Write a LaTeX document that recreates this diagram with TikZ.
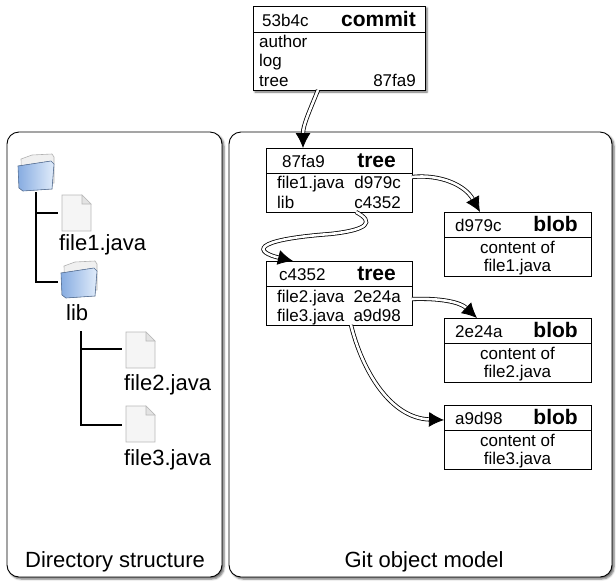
\documentclass[tikz,border=0pt]{standalone}
\usepackage{fontspec}
\setmainfont{Liberation Sans}
\usepackage{tikz}
\usetikzlibrary{arrows.meta,shadows.blur}
\usepackage{xcolor}

\definecolor{folderblue}{RGB}{135,172,225}
\definecolor{folderpale}{RGB}{225,236,250}

\tikzset{
  panel/.style={draw, line width=0.9pt, rounded corners=12pt, fill=white,
    blur shadow={shadow xshift=2pt, shadow yshift=-2pt, shadow blur radius=2pt, shadow opacity=60}},
  objbox/.style={draw, line width=0.8pt, fill=white, inner sep=0pt},
  lbl/.style={inner sep=0pt, font=\fontsize{17}{20}\selectfont},
  hdr/.style={inner sep=0pt, font=\fontsize{21}{24}\selectfont\bfseries},
  dirlbl/.style={inner sep=0pt, font=\fontsize{22}{26}\selectfont},
  ref/.style={draw=black, double=white, double distance=2.6pt, line width=0.8pt,
    -{Latex[length=15pt,width=15pt]}},
  fileicon/.style={draw=gray!55, fill=gray!8, line width=0.6pt},
}

\begin{document}
\begin{tikzpicture}[x=1pt,y=-1pt]
  \useasboundingbox (0,0) rectangle (616,582);

  % the two panels
  \node[panel, minimum width=215, minimum height=445] (dirpanel) at (114.5,354.5) {};
  \node[panel, minimum width=383, minimum height=445] (gitpanel) at (420.5,354.5) {};
  \node[dirlbl, anchor=base] (dirtitle) at (115,567) {Directory structure};
  \node[dirlbl, anchor=base] (gittitle) at (424,567) {Git object model};

  % directory tree
  \draw[line width=1.1pt] (36,192) |- (58,282);
  \draw[line width=1.1pt] (36,213) -- (58,213);
  \draw[line width=1.1pt] (81,331) |- (122,425);
  \draw[line width=1.1pt] (81,349) -- (122,349);
  \foreach \gx/\gy in {18/153, 61/260} {
    \filldraw[draw=gray!60, fill=gray!12, line width=0.6pt] (\gx+3,\gy+6) -- (\gx+14,\gy+2) -- (\gx+34,\gy+1)
      -- (\gx+36,\gy+4) -- (\gx+36,\gy+30) -- (\gx+4,\gy+34) -- cycle;
    \filldraw[draw=folderblue!70!black, left color=folderblue, right color=folderpale, line width=0.6pt]
      (\gx,\gy+13) -- (\gx+33,\gy+8) -- (\gx+36,\gy+11) -- (\gx+34,\gy+36) -- (\gx+5,\gy+38) -- (\gx+1,\gy+35) -- cycle;
  }
  \foreach \fx/\fy in {62/195, 126/332, 126/406} {
    \filldraw[fileicon] (\fx,\fy) -- (\fx+20,\fy) -- (\fx+29,\fy+9) -- (\fx+29,\fy+36) -- (\fx,\fy+36) -- cycle;
    \filldraw[fileicon, fill=gray!22] (\fx+20,\fy) -- (\fx+20,\fy+9) -- (\fx+29,\fy+9) -- cycle;
  }
  \node[dirlbl, anchor=base west] (dir-file1) at (59,250) {file1.java};
  \node[dirlbl, anchor=base west] (dir-lib) at (66,320) {lib};
  \node[dirlbl, anchor=base west] (dir-file2) at (124,390) {file2.java};
  \node[dirlbl, anchor=base west] (dir-file3) at (124,465) {file3.java};

  % commit object
  \node[objbox, minimum width=172, minimum height=84,
    blur shadow={shadow xshift=2pt, shadow yshift=-2pt, shadow blur radius=2pt, shadow opacity=60}] (commit) at (339,48) {};
  \draw[line width=0.8pt] (253,32) -- (425,32);
  \node[lbl, anchor=base west] (commit-id) at (262,26) {53b4c};
  \node[hdr, anchor=base east] (commit-type) at (416,26) {commit};
  \node[lbl, anchor=base west] (commit-author) at (259,47) {author};
  \node[lbl, anchor=base west] (commit-log) at (259,66) {log};
  \node[lbl, anchor=base west] (commit-tree) at (259,86) {tree};
  \node[lbl, anchor=base east] (commit-treeid) at (416,86) {87fa9};

  % tree objects
  \node[objbox, minimum width=146, minimum height=64] (tree1) at (339,180) {};
  \draw[line width=0.8pt] (266,173) -- (412,173);
  \node[lbl, anchor=base west] (tree1-id) at (282,167) {87fa9};
  \node[hdr, anchor=base east] (tree1-type) at (396,167) {tree};
  \node[lbl, anchor=base west] (tree1-file1) at (277,188) {file1.java};
  \node[lbl, anchor=base east] (tree1-file1id) at (401,188) {d979c};
  \node[lbl, anchor=base west] (tree1-lib) at (277,208) {lib};
  \node[lbl, anchor=base east] (tree1-libid) at (401,208) {c4352};

  \node[objbox, minimum width=146, minimum height=64] (tree2) at (339,293) {};
  \draw[line width=0.8pt] (266,286) -- (412,286);
  \node[lbl, anchor=base west] (tree2-id) at (279,280) {c4352};
  \node[hdr, anchor=base east] (tree2-type) at (396,280) {tree};
  \node[lbl, anchor=base west] (tree2-file2) at (277,302) {file2.java};
  \node[lbl, anchor=base east] (tree2-file2id) at (401,302) {2e24a};
  \node[lbl, anchor=base west] (tree2-file3) at (277,321) {file3.java};
  \node[lbl, anchor=base east] (tree2-file3id) at (401,321) {a9d98};

  % blob objects
  \foreach \n/\id/\y/\f in {1/d979c/244/file1, 2/2e24a/350/file2, 3/a9d98/437/file3} {
    \node[objbox, minimum width=147, minimum height=64] (blob\n) at (517.5,\y) {};
    \draw[line width=0.8pt] (444,\y-7) -- (591,\y-7);
    \node[lbl, anchor=base west] (blob\n-id) at (455,\y-13) {\id};
    \node[hdr, anchor=base east] (blob\n-type) at (578,\y-13) {blob};
    \node[lbl, anchor=base] (blob\n-text) at (517.5,\y+9) {content of};
    \node[lbl, anchor=base] (blob\n-name) at (517.5,\y+27) {\f.java};
  }

  % references
  \coordinate (c-out) at (318,90);
  \coordinate (t1-in) at (303,148);
  \coordinate (t1-out1) at (412,177);
  \coordinate (t1-out2) at (356,212);
  \coordinate (t2-in) at (293,261);
  \coordinate (t2-out1) at (412,299);
  \coordinate (t2-out2) at (351,325);
  \coordinate (b1-in) at (480,212);
  \coordinate (b2-in) at (477,318);
  \coordinate (b3-in) at (444,420);
  \draw[ref] (c-out) .. controls (310,110) and (303,125) .. (t1-in);
  \draw[ref] (t1-out1) .. controls (440,174) and (465,185) .. (b1-in);
  \draw[ref] (t1-out2) .. controls (375,222) and (368,230) .. (330,234)
    .. controls (250,240) and (255,252) .. (t2-in);
  \draw[ref] (t2-out1) .. controls (440,298) and (460,302) .. (b2-in);
  \draw[ref] (t2-out2) .. controls (362,370) and (390,418) .. (b3-in);
\end{tikzpicture}
\end{document}
